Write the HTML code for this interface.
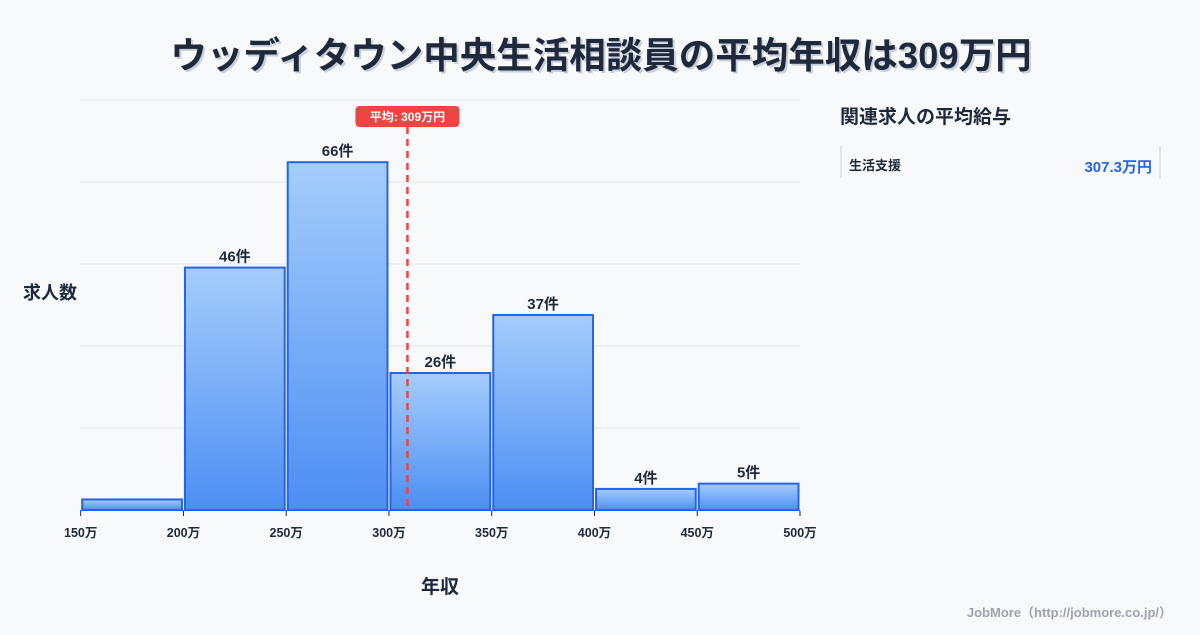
<!DOCTYPE html>
<html><head><meta charset="utf-8"><style>
body{margin:0;background:#f8f9fb;width:1200px;height:630px;overflow:hidden;font-family:"Liberation Sans","Noto Sans CJK JP",sans-serif;}
svg text{font-family:"Liberation Sans","Noto Sans CJK JP",sans-serif;}
</style></head><body>
<svg width="1200" height="630">
<defs>
<linearGradient id="g" x1="0" y1="0" x2="0" y2="1"><stop offset="0" stop-color="#a5cdfb"/><stop offset="1" stop-color="#4d8ef3"/></linearGradient>
</defs>
<text x="601" y="68" text-anchor="middle" font-size="36.5" font-weight="bold" fill="#c7d0dc" transform="translate(2,2)">ウッディタウン中央生活相談員の平均年収は309万円</text>
<text x="601" y="68" text-anchor="middle" font-size="36.5" font-weight="bold" fill="#1e293b">ウッディタウン中央生活相談員の平均年収は309万円</text>
<g id="grid"></g>
<g id="bars"></g>
<g id="axis"></g>
<text x="50" y="299" text-anchor="middle" font-size="18" font-weight="bold" fill="#1e293b">求人数</text>
<text x="440" y="593" text-anchor="middle" font-size="19" font-weight="bold" fill="#1e293b">年収</text>
<text x="840" y="123" font-size="19" font-weight="bold" fill="#1e293b">関連求人の平均給与</text>
<line x1="841" y1="146" x2="841" y2="178" stroke="#cbd5e1"/>
<line x1="1160" y1="146" x2="1160" y2="178" stroke="#cbd5e1"/>
<text x="849" y="170" font-size="13" font-weight="bold" fill="#1e293b">生活支援</text>
<text x="1152" y="172" text-anchor="end" font-size="15" font-weight="bold" fill="#2563eb">307.3万円</text>
<text x="1172" y="617" text-anchor="end" font-size="13" font-weight="bold" fill="#9ca3af">JobMore（http://jobmore.co.jp/）</text>
</svg>
<script>
const binStarts=[150,200,250,300,350,400,450];
const counts=[2,46,66,26,37,4,5];
const labels=["","46件","66件","26件","37件","4件","5件"];
const ticks=[150,200,250,300,350,400,450,500];
const avg=309;
const yMax=77.8;
const NS="http://www.w3.org/2000/svg";
const X=v=>80.7+(v-150)*(800-80.7)/350;
const Y=v=>510-v*(410/yMax);
function mk(t,a,p){const e=document.createElementNS(NS,t);for(const k in a)e.setAttribute(k,a[k]);p.appendChild(e);return e;}
const grid=document.getElementById('grid'),bars=document.getElementById('bars'),axis=document.getElementById('axis');
for(let i=1;i<=5;i++){const gy=510-i*82;const l=mk('line',{x1:80,x2:800,y1:gy,y2:gy,stroke:'#e5e7eb'},grid);

}
binStarts.forEach((s,i)=>{const x0=X(s)+1.5,x1=X(s+50)-1.5,y=Y(counts[i]);
const r=mk('rect',{x:x0,y:y,width:x1-x0,height:510-y,fill:'url(#g)',stroke:'#2563eb','stroke-width':2},bars);


if(labels[i]){const t=mk('text',{x:(x0+x1)/2,y:y-6,'text-anchor':'middle','font-size':15,'font-weight':'bold',fill:'#1e293b'},bars);t.textContent=labels[i];

}
});
const bl=mk('line',{x1:80,x2:800,y1:510.5,y2:510.5,stroke:'#2563eb','stroke-width':1},axis);


ticks.forEach(v=>{const x=X(v);const l=mk('line',{x1:x,x2:x,y1:511,y2:516,stroke:'#1e293b'},axis);


const t=mk('text',{x:x,y:537,'text-anchor':'middle','font-size':12.5,'font-weight':'bold',fill:'#1e293b'},axis);t.textContent=v+'万';

});
const ax=X(avg);
const al=mk('line',{x1:ax,x2:ax,y1:127,y2:510,stroke:'#ef4444','stroke-width':2.5,'stroke-dasharray':'7,5'},axis);


const ar=mk('rect',{x:ax-52,y:106,width:104,height:21,rx:4,fill:'#ef4444'},axis);


const at=mk('text',{x:ax,y:121,'text-anchor':'middle','font-size':12,'font-weight':'bold',fill:'#fff'},axis);at.textContent='平均: '+avg+'万円';


</script>
</body></html>
